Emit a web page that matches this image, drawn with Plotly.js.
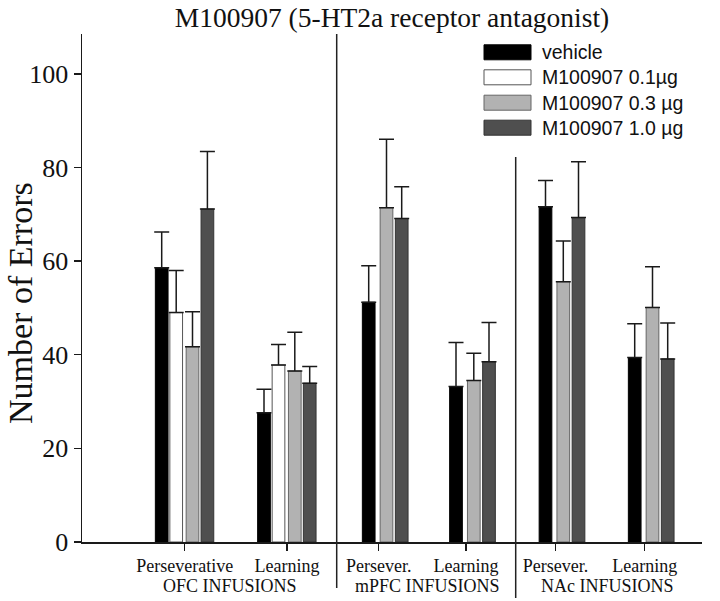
<!DOCTYPE html>
<html>
<head>
<meta charset="utf-8">
<script src="https://cdn.plot.ly/plotly-3.0.1.min.js"></script>
<style>html,body{margin:0;padding:0;background:#fff;}#chart{width:720px;height:601px;}</style>
</head>
<body>
<div id="chart"></div>
<script>
// ---- data ----
const categories = ["Perseverative", "Learning", "Persever.", "Learning", "Persever.", "Learning"];
const regions = ["OFC INFUSIONS", "mPFC INFUSIONS", "NAc INFUSIONS"];
const seriesNames = ["vehicle", "M100907 0.1\u00b5g", "M100907 0.3 \u00b5g", "M100907 1.0 \u00b5g"];
const vehicle   = [58.6, 27.6, 51.2, 33.2, 71.6, 39.4];
const dose01    = [49.0, 37.8, null, null, null, null];
const dose03    = [41.7, 36.5, 71.4, 34.5, 55.6, 50.1];
const dose10    = [71.1, 33.9, 69.1, 38.5, 69.3, 39.1];
const vehicleErr = [7.6, 5.0, 7.8, 9.4, 5.6, 7.2];
const dose01Err  = [9.0, 4.4, null, null, null, null];
const dose03Err  = [7.5, 8.3, 14.6, 5.8, 8.7, 8.7];
const dose10Err  = [12.3, 3.6, 6.8, 8.4, 11.9, 7.7];

// ---- layout / style ----
const W = 720, H = 601;
const L = 82, R = 18, T = 34, B = 59;
const plotW = W - L - R, plotH = H - T - B;
const groupCenters = [102.7, 205, 296.7, 384, 473.5, 562.7]; // axis units
const offsets4 = [-23, -8.5, 7.8, 22.7];
const offsets3 = [-10, null, 7.8, 23];
const barW = 12.7;
const fills = ["#000000", "#ffffff", "#b2b2b2", "#4f4f4f"];
const lines = ["#000000", "#555555", "#666666", "#333333"];
const serif = "Liberation Serif, Times New Roman, serif";
const sans = "Liberation Sans, Arial, sans-serif";

const values = [vehicle, dose01, dose03, dose10];
const errs = [vehicleErr, dose01Err, dose03Err, dose10Err];

const traces = values.map((vals, s) => {
  const xs = [], ys = [], es = [], em = [];
  vals.forEach((v, g) => {
    if (v === null) return;
    const fourBars = dose01[g] !== null;
    const off = fourBars ? offsets4[s] : offsets3[s];
    xs.push(groupCenters[g] + off);
    ys.push(v);
    es.push(errs[s][g]);
    em.push(0);
  });
  return {
    type: "bar", name: seriesNames[s], x: xs, y: ys, width: barW,
    marker: {color: fills[s], line: {color: lines[s], width: 1}},
    error_y: {type: "data", symmetric: false, array: es, arrayminus: em,
              color: "#1a1a1a", thickness: 1.5, width: 7.5},
    showlegend: false, hoverinfo: "y"
  };
});

const px2x = p => (p - L) / plotW;
const px2y = p => (H - B - p) / plotH;

const shapes = [
  {type: "line", xref: "paper", yref: "paper", x0: px2x(336.7), x1: px2x(336.7), y0: px2y(34), y1: px2y(588),
   line: {color: "#222", width: 1.5}},
  {type: "line", xref: "paper", yref: "paper", x0: px2x(515.7), x1: px2x(515.7), y0: px2y(157), y1: px2y(598),
   line: {color: "#222", width: 1.5}}
];
const annotations = [];
// legend drawn as swatches + text
const legendRows = [52.3, 77.3, 102.7, 127.7];
seriesNames.forEach((nm, s) => {
  shapes.push({type: "rect", xref: "paper", yref: "paper",
    x0: px2x(484), x1: px2x(531), y0: px2y(legendRows[s] + 7.5), y1: px2y(legendRows[s] - 7.5),
    fillcolor: fills[s], line: {color: lines[s], width: 1}});
  annotations.push({xref: "paper", yref: "paper", x: px2x(540), y: px2y(legendRows[s]),
    xanchor: "left", yanchor: "middle", text: nm, showarrow: false,
    font: {family: sans, size: 19.5, color: "#111"}});
});
// region labels
const regionCenters = [230, 427.7, 607.5];
regions.forEach((r, i) => {
  annotations.push({xref: "paper", yref: "paper", x: px2x(regionCenters[i]), y: px2y(586),
    xanchor: "center", yanchor: "middle", text: r, showarrow: false,
    font: {family: serif, size: 18, color: "#111"}});
});
// y-axis title
annotations.push({xref: "paper", yref: "paper", x: px2x(20), y: px2y(303), textangle: -90,
  xanchor: "center", yanchor: "middle", text: "Number of Errors", showarrow: false,
  font: {family: serif, size: 34, color: "#111"}});

const layout = {
  width: W, height: H,
  margin: {l: L, r: R, t: T, b: B, pad: 0},
  paper_bgcolor: "#ffffff", plot_bgcolor: "#ffffff",
  barmode: "overlay",
  title: {text: "M100907 (5-HT2a receptor antagonist)", font: {family: serif, size: 27.5, color: "#111"},
          xref: "paper", x: 0.5, xanchor: "center", yref: "container", y: 1 - 17 / H, yanchor: "middle"},
  xaxis: {range: [0, plotW], tickmode: "array", tickvals: groupCenters, ticktext: categories,
          showgrid: false, zeroline: false, showline: true, linecolor: "#1a1a1a", linewidth: 1.5,
          ticks: "outside", ticklen: 7, tickwidth: 1.5, tickcolor: "#1a1a1a",
          tickfont: {family: serif, size: 18, color: "#111"}, fixedrange: true},
  yaxis: {range: [0, 108.5], tickmode: "array", tickvals: [0, 20, 40, 60, 80, 100],
          showgrid: false, zeroline: false, showline: true, linecolor: "#1a1a1a", linewidth: 1.5,
          ticks: "outside", ticklen: 7, tickwidth: 1.5, tickcolor: "#1a1a1a",
          tickfont: {family: serif, size: 26, color: "#111"}, fixedrange: true},
  shapes: shapes,
  annotations: annotations,
  showlegend: false
};

Plotly.newPlot("chart", traces, layout, {displayModeBar: false, staticPlot: true});
</script>
</body>
</html>
